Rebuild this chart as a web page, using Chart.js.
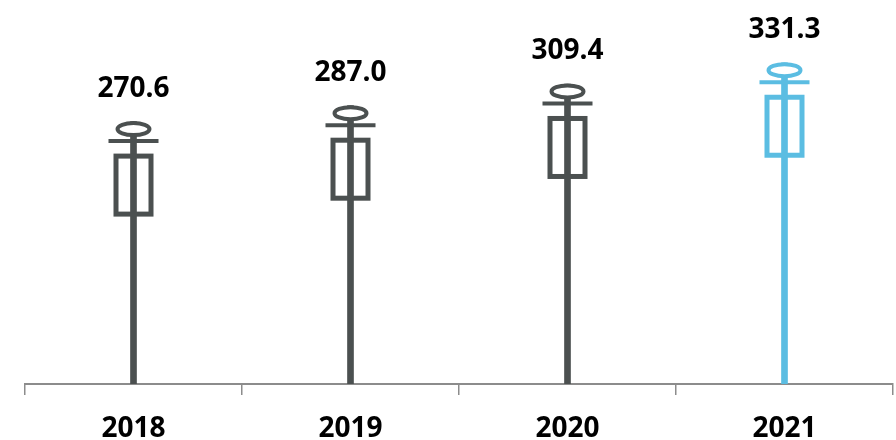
<!DOCTYPE html>
<html>
<head>
<meta charset="utf-8">
<script src="https://cdn.jsdelivr.net/npm/chart.js@4/dist/chart.umd.min.js"></script>
<style>
  body { margin: 0; background: #ffffff; }
  #wrap { width: 896px; height: 440px; }
</style>
</head>
<body>
<div id="wrap"><canvas id="myChart"></canvas></div>
<script>
const years = ['2018', '2019', '2020', '2021'];
const values = [270.6, 287.0, 309.4, 331.3];
const colors = ['#4b5050', '#4b5050', '#4b5050', '#5bbde2'];

// draws the ring, crossbar and box on top of each stem
const syringePlugin = {
    id: 'syringe',
    afterDatasetsDraw(chart) {
        const ctx = chart.ctx;
        const meta = chart.getDatasetMeta(0);
        ctx.save();
        meta.data.forEach((bar, i) => {
            const x = bar.x;
            const top = bar.y;
            const c = colors[i];
            ctx.strokeStyle = c;

            // ring
            ctx.lineWidth = 4;
            ctx.fillStyle = '#ffffff';
            ctx.beginPath();
            ctx.ellipse(x, top + 7.5, 16, 6, 0, 0, Math.PI * 2);
            ctx.fill();
            ctx.stroke();

            // crossbar
            ctx.beginPath();
            ctx.moveTo(x - 25, top + 19.5);
            ctx.lineTo(x + 25, top + 19.5);
            ctx.stroke();

            // box
            ctx.lineWidth = 5;
            ctx.strokeRect(x - 17.5, top + 34.5, 35, 58);

            // value label
            ctx.fillStyle = '#000000';
            ctx.font = 'bold 28px "Open Sans"';
            ctx.textAlign = 'center';
            ctx.textBaseline = 'middle';
            ctx.fillText(values[i].toFixed(1), x, top - 33);
        });
        ctx.restore();
    }
};

const ctx = document.getElementById('myChart').getContext('2d');
const chart = new Chart(ctx, {
    type: 'bar',
    data: {
        labels: years,
        datasets: [{
            data: values,
            backgroundColor: colors,
            barThickness: 6
        }]
    },
    options: {
        responsive: true,
        maintainAspectRatio: false,
        animation: false,
        layout: { padding: { left: 25, right: 3, top: 0, bottom: 0 } },
        plugins: {
            legend: { display: false },
            tooltip: { enabled: false }
        },
        scales: {
            x: {
                offset: true,
                afterFit(scale) {
                    scale.height = 56;
                },
                grid: {
                    offset: true,
                    drawOnChartArea: false,
                    drawTicks: true,
                    tickLength: 11,
                    color: '#8c8c8c',
                    lineWidth: 1.5
                },
                border: { display: true, color: '#8c8c8c', width: 2 },
                ticks: {
                    color: '#000000',
                    padding: 17,
                    font: { family: '"Open Sans"', size: 28, weight: 'bold' }
                }
            },
            y: {
                display: false,
                min: 0,
                max: 396
            }
        }
    },
    plugins: [syringePlugin]
});
</script>
</body>
</html>
